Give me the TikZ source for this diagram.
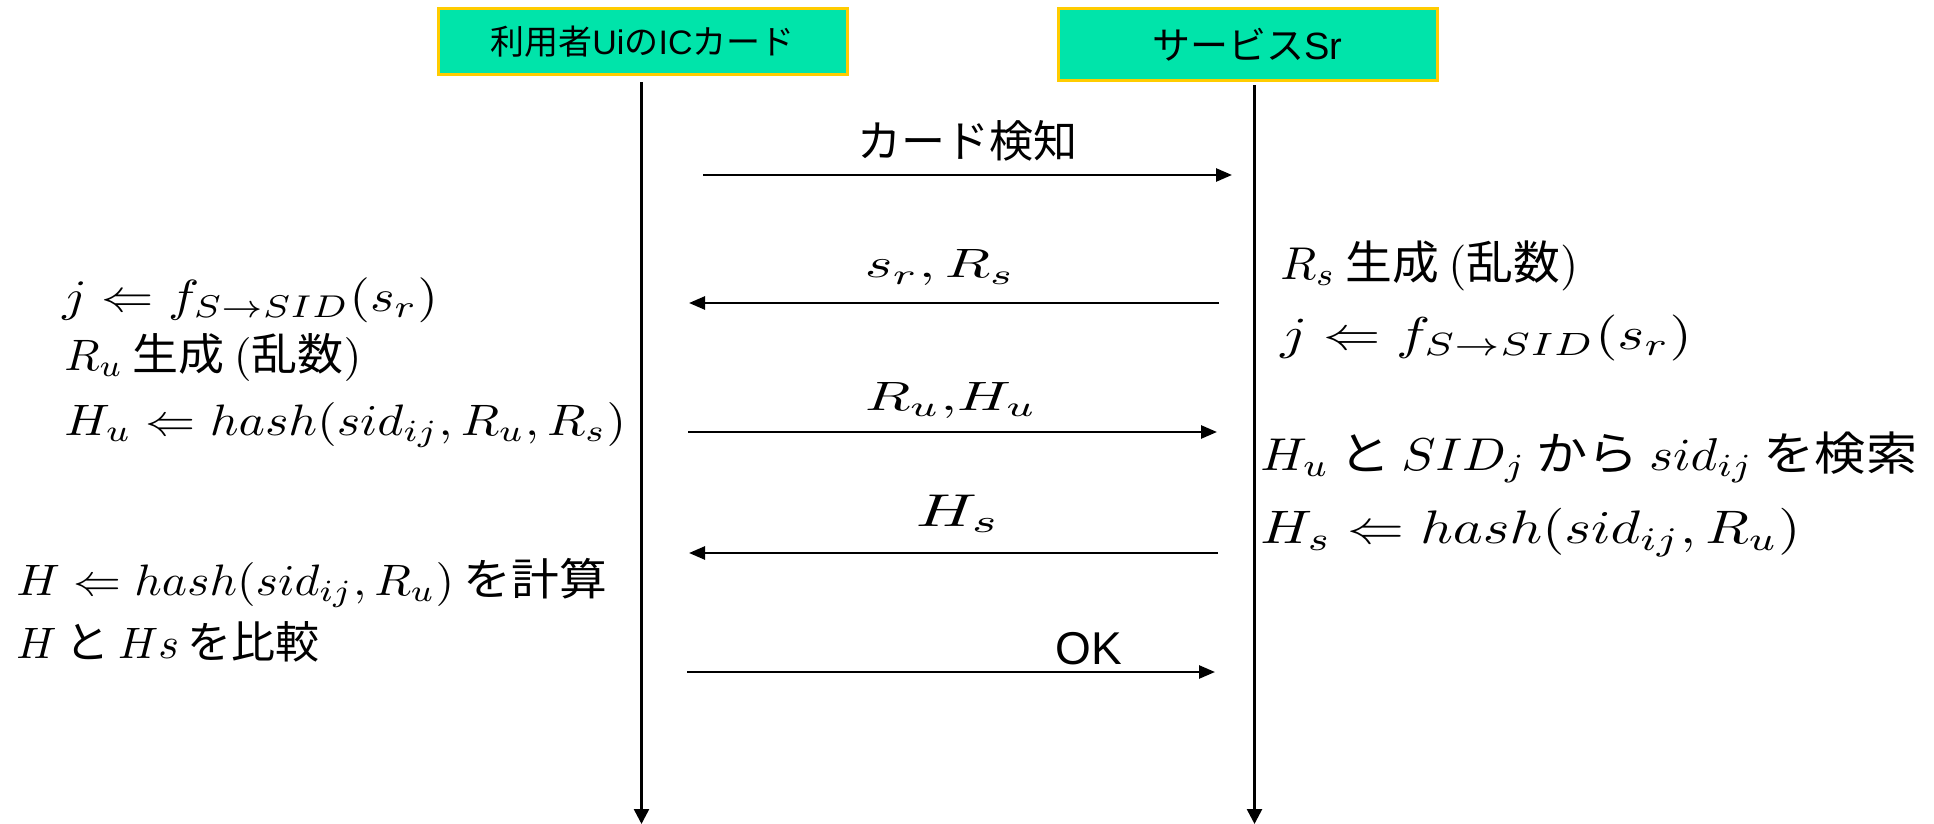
\RequirePackage{fix-cm}
\documentclass[tikz,border=0pt]{standalone}
\usepackage{fontspec}
\newfontfamily\jp{Noto Sans CJK JP}
\newfontfamily\arial{Liberation Sans}
\usetikzlibrary{arrows.meta}
\definecolor{hdrfill}{RGB}{0,228,170}
\definecolor{hdrline}{RGB}{255,204,0}
\newcommand\gp{\hspace{.2em}}
\newcommand\sx[3]{\scalebox{#1}[#2]{#3}}
\tikzset{
  hdr/.style={draw=hdrline, line width=1.5pt, fill=hdrfill, inner sep=0pt},
  life/.style={line width=1.3pt, -{Triangle[length=7.5pt,width=7.5pt]}},
  msg/.style={line width=1.3pt, -{Triangle[length=8pt,width=6.5pt]}},
  eq/.style={anchor=base west, inner sep=0pt, font=\fontsize{10}{12}\selectfont},
  mlabel/.style={anchor=base, inner sep=0pt, font=\fontsize{10}{12}\selectfont},
  slabel/.style={anchor=base, inner sep=0pt, font=\arial\fontsize{22}{26}\selectfont},
}
\begin{document}
\begin{tikzpicture}[x=0.5pt,y=-0.5pt]
\useasboundingbox (0,0) rectangle (1934,824);
% headers
\node[hdr, minimum width=204.5pt, minimum height=33pt, font=\arial\fontsize{17}{20}\selectfont] (ubox) at (642.5,42) {{\jp 利用者}Ui{\jp の}IC{\jp カード}};
\node[hdr, minimum width=189.5pt, minimum height=36pt, font=\arial\fontsize{19}{22}\selectfont] (sbox) at (1247.5,45) {{\jp サービス}Sr};
% lifelines
\coordinate (lb) at (641.5,824);
\coordinate (rb) at (1254.5,824);
\draw[life] ([yshift=-3pt]ubox.south -| lb) -- (lb);
\draw[life] ([yshift=-1.5pt]sbox.south -| rb) -- (rb);
% messages
\coordinate (m1a) at (703,175);  \coordinate (m1b) at (1232,175);
\coordinate (m2a) at (1219,303); \coordinate (m2b) at (689,303);
\coordinate (m3a) at (688,432);  \coordinate (m3b) at (1217,432);
\coordinate (m4a) at (1218,553); \coordinate (m4b) at (689,553);
\coordinate (m5a) at (687,672);  \coordinate (m5b) at (1215,672);
\draw[msg] (m1a) -- (m1b);
\draw[msg] (m2a) -- (m2b);
\draw[msg] (m3a) -- (m3b);
\draw[msg] (m4a) -- (m4b);
\draw[msg] (m5a) -- (m5b);
% message labels
\node[slabel] (l1) at (967,157) {\jp カード検知};
\node[mlabel] (l2) at (940,278) {\sx{2.95}{2.05}{$s_r, R_s$}};
\node[mlabel] (l3) at (951,410) {\sx{2.95}{2.05}{$R_u{,}H_u$}};
\node[mlabel] (l4) at (958,526) {\sx{3.35}{2.3}{$H_s$}};
\node[slabel, font=\arial\fontsize{23}{27}\selectfont] (l5) at (1089,664) {OK};
% left texts
\node[eq] (a1) at (62,311) {\sx{2.61}{2.25}{$j \Leftarrow f_{S\rightarrow SID}(s_r)$}};
\node[eq] (a2) at (64,370) {\sx{2.3}{2.2}{$R_u$\gp{\jp 生成}\gp$($\jp{乱数}$)$}};
\node[eq] (a3) at (64,435) {\sx{2.5}{2.2}{$H_u \Leftarrow hash(sid_{ij}, R_u, R_s)$}};
\node[eq] (a4) at (16,595) {\sx{2.39}{2.2}{$H \Leftarrow hash(sid_{ij}, R_u)$\gp{\jp を計算}}};
\node[eq] (a5) at (16,658) {\sx{2.2}{2.2}{$H$\gp{\jp と}\gp$Hs$\gp{\jp を比較}}};
% right texts
\node[eq] (b1) at (1280,279) {\sx{2.34}{2.3}{$R_s$\gp{\jp 生成}\gp$($\jp{乱数}$)$}};
\node[eq] (b2) at (1280,349) {\sx{2.86}{2.3}{$j \Leftarrow f_{S\rightarrow SID}(s_r)$}};
\node[eq] (b3) at (1260,470) {\sx{2.56}{2.3}{$H_u$\gp{\jp と}\gp$SID_j$\gp{\jp から}\gp$sid_{ij}$\gp{\jp を検索}}};
\node[eq] (b4) at (1260,543) {\sx{2.84}{2.35}{$H_s \Leftarrow hash(sid_{ij}, R_u)$}};
\end{tikzpicture}
\end{document}
